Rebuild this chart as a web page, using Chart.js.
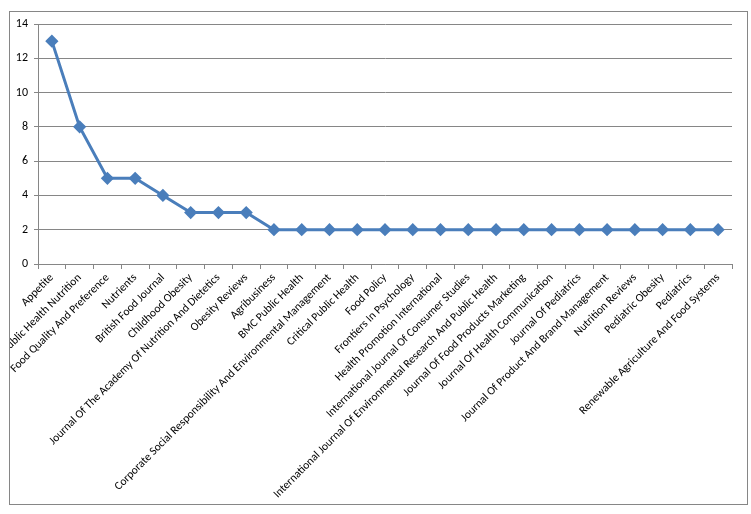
<!DOCTYPE html>
<html>
<head>
<meta charset="utf-8">
<script src="https://cdn.jsdelivr.net/npm/chart.js@4.4.0/dist/chart.umd.min.js"></script>
<style>
  body { margin: 0; background: #fff; }
  #wrap { width: 751px; height: 514px; }
</style>
</head>
<body>
<div id="wrap"><canvas id="chart" width="751" height="514"></canvas></div>
<script>
const journals = [
    'Appetite',
    'Public Health Nutrition',
    'Food Quality And Preference',
    'Nutrients',
    'British Food Journal',
    'Childhood Obesity',
    'Journal Of The Academy Of Nutrition And Dietetics',
    'Obesity Reviews',
    'Agribusiness',
    'BMC Public Health',
    'Corporate Social Responsibility And Environmental Management',
    'Critical Public Health',
    'Food Policy',
    'Frontiers In Psychology',
    'Health Promotion International',
    'International Journal Of Consumer Studies',
    'International Journal Of Environmental Research And Public Health',
    'Journal Of Food Products Marketing',
    'Journal Of Health Communication',
    'Journal Of Pediatrics',
    'Journal Of Product And Brand Management',
    'Nutrition Reviews',
    'Pediatric Obesity',
    'Pediatrics',
    'Renewable Agriculture And Food Systems'
];
const articleCounts = [13, 8, 5, 5, 4, 3, 3, 3, 2, 2, 2, 2, 2, 2, 2, 2, 2, 2, 2, 2, 2, 2, 2, 2, 2];
const yMin = 0, yMax = 14, yStep = 2;

const blue = '#4a7ebb';
const gray = '#868686';
const fontFamily = "Carlito, 'Liberation Sans', Arial, sans-serif";

// frame around the whole chart, also hides label overflow on the left
const framePlugin = {
    id: 'frame',
    afterDraw(chart) {
        const ctx = chart.ctx;
        ctx.save();
        ctx.fillStyle = '#fff';
        ctx.fillRect(0, 0, 9, 514);
        ctx.strokeStyle = gray;
        ctx.lineWidth = 1;
        ctx.strokeRect(9.5, 11.5, 738, 493);
        ctx.restore();
    }
};

new Chart(document.getElementById('chart'), {
    type: 'line',
    data: {
        labels: journals,
        datasets: [{
            data: articleCounts,
            borderColor: blue,
            backgroundColor: blue,
            borderWidth: 3,
            pointStyle: 'rectRot',
            pointRadius: 4.5,
            pointHoverRadius: 4.5,
            tension: 0
        }]
    },
    options: {
        responsive: false,
        animation: false,
        events: [],
        layout: { padding: { left: 0, top: 24, right: 19, bottom: 0 } },
        plugins: { legend: { display: false }, tooltip: { enabled: false } },
        scales: {
            x: {
                offset: true,
                grid: { offset: true, drawOnChartArea: false, drawTicks: true, tickLength: 5, color: gray },
                border: { color: gray },
                ticks: {
                    autoSkip: false,
                    minRotation: 45,
                    maxRotation: 45,
                    padding: 2,
                    color: '#000',
                    font: { family: fontFamily, size: 11.5 }
                },
                afterFit: (s) => { s.paddingLeft = 0; s.paddingRight = 0; s.height = 250; }
            },
            y: {
                min: yMin,
                max: yMax,
                grid: { color: gray, tickLength: 4 },
                border: { color: gray },
                ticks: {
                    stepSize: yStep,
                    padding: 6,
                    color: '#000',
                    font: { family: fontFamily, size: 12 }
                },
                afterFit: (s) => { s.width = 38; s.paddingTop = 0; s.paddingBottom = 0; }
            }
        }
    },
    plugins: [framePlugin]
});
</script>
</body>
</html>
